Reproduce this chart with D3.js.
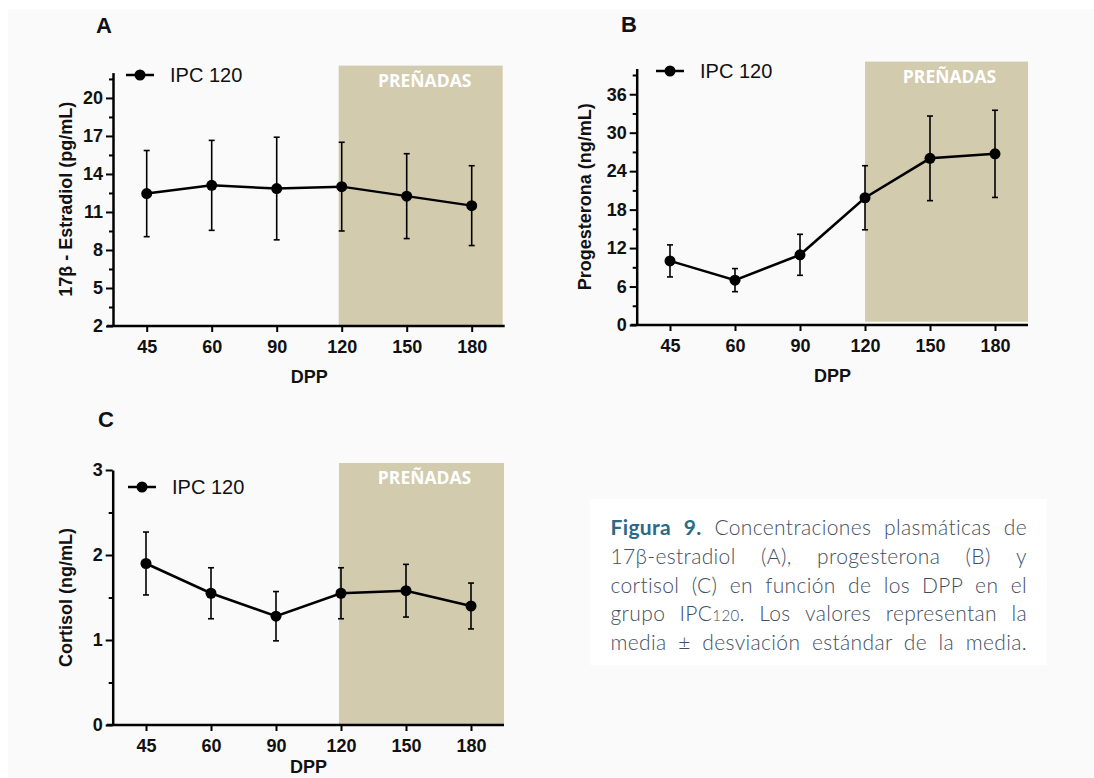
<!DOCTYPE html>
<html>
<head>
<meta charset="utf-8">
<script src="https://cdn.jsdelivr.net/npm/d3@7"></script>
<style>
  body { margin: 0; background: #fff; }
  svg text { font-family: "Liberation Sans", Arial, sans-serif; }
</style>
</head>
<body>
<svg id="fig" width="1094" height="778"></svg>
<script>
// days post partum (x categories)
const days = ["45", "60", "90", "120", "150", "180"];

// 17β-estradiol (pg/mL), mean and SD
const estradiolMean = [12.45, 13.1, 12.85, 13.0, 12.25, 11.5];
const estradiolSD = [3.4, 3.55, 4.05, 3.5, 3.35, 3.15];

// progesterona (ng/mL)
const progesteronaMean = [10.0, 7.0, 10.95, 19.85, 26.0, 26.7];
const progesteronaSD = [2.5, 1.8, 3.2, 5.0, 6.6, 6.8];

// cortisol (ng/mL)
const cortisolMean = [1.9, 1.55, 1.28, 1.55, 1.58, 1.40];
const cortisolSD = [0.37, 0.30, 0.29, 0.30, 0.31, 0.27];

// y tick labels
const estradiolTicks = [2, 5, 8, 11, 14, 17, 20];
const progesteronaTicks = [0, 6, 12, 18, 24, 30, 36];
const cortisolTicks = [0, 1, 2, 3];

const seriesName = "IPC 120";
const pregnantLabel = "PREÑADAS";
const pregnantFrom = "120";

const svg = d3.select("#fig");

// light grey page behind the figure
svg.append("rect")
  .attr("x", 8).attr("y", 9)
  .attr("width", 1086).attr("height", 769)
  .attr("fill", "#fafafa");

function drawPanel(p) {
  const g = svg.append("g");
  const rows = days.map((d, i) => ({ day: d, mean: p.mean[i], sd: p.sd[i] }));

  const x = d3.scalePoint().domain(days).range([p.x0, p.x0 + 325]);
  const y = d3.scaleLinear().domain(p.yDomain).range([p.bottom, p.top]);
  const axisEnd = x(days[days.length - 1]) + 33;

  // shaded pregnancy zone
  const sx = x(pregnantFrom) - p.shadeOff;
  g.append("rect")
    .attr("x", sx)
    .attr("y", p.top - 7)
    .attr("width", axisEnd - sx - p.shadeRight)
    .attr("height", p.bottom - p.top + 7 - p.shadeGap)
    .attr("fill", "#d3cbae");
  g.append("text")
    .attr("x", (sx + axisEnd) / 2 + 3)
    .attr("y", p.top + 14)
    .attr("text-anchor", "middle")
    .style("font-family", "'Open Sans', 'Noto Sans', sans-serif")
    .attr("font-weight", 700)
    .attr("font-size", 17.5)
    .attr("fill", "#fff")
    .text(pregnantLabel);

  // y axis, major + minor ticks
  const minor = p.major.slice(0, -1).map((v, i) => (v + p.major[i + 1]) / 2);
  const last = p.major[p.major.length - 1];
  if (p.yDomain[1] > last) minor.push(last + (p.major[1] - p.major[0]) / 2);

  const ya = g.append("g")
    .attr("transform", `translate(${p.yAxisX},0)`)
    .call(d3.axisLeft(y).tickValues(p.major).tickFormat(d => String(d))
      .tickSize(7).tickPadding(3).tickSizeOuter(0));
  ya.select(".domain").attr("stroke-width", 2.5);
  ya.selectAll(".tick line").attr("stroke-width", 2);
  ya.selectAll(".tick text")
    .attr("font-size", 18).attr("font-weight", 700).attr("fill", "#111")
    .style("font-family", "'Liberation Sans', Arial, sans-serif");

  const ym = g.append("g")
    .attr("transform", `translate(${p.yAxisX},0)`)
    .call(d3.axisLeft(y).tickValues(minor).tickSize(4).tickFormat(""));
  ym.select(".domain").remove();
  ym.selectAll(".tick line").attr("stroke-width", 2);

  // x axis
  const xa = g.append("g")
    .attr("transform", `translate(0,${p.bottom})`)
    .call(d3.axisBottom(x).tickSize(6).tickPadding(8));
  xa.select(".domain").remove();
  xa.selectAll(".tick line").attr("stroke-width", 2);
  xa.selectAll(".tick text")
    .attr("font-size", 18).attr("font-weight", 700).attr("fill", "#111")
    .style("font-family", "'Liberation Sans', Arial, sans-serif");
  g.append("line")
    .attr("x1", p.yAxisX - 6).attr("x2", axisEnd)
    .attr("y1", p.bottom).attr("y2", p.bottom)
    .attr("stroke", "#000").attr("stroke-width", 2.5);

  // axis titles
  g.append("text")
    .attr("transform", `translate(${p.titleX},${(p.top + p.bottom) / 2}) rotate(-90)`)
    .attr("text-anchor", "middle")
    .attr("font-size", 18).attr("font-weight", 700).attr("fill", "#111")
    .text(p.yTitle);

  g.append("text")
    .attr("x", (x(days[0]) + x(days[days.length - 1])) / 2)
    .attr("y", p.bottom + p.dppOff)
    .attr("text-anchor", "middle")
    .attr("font-size", 18).attr("font-weight", 700).attr("fill", "#111")
    .text("DPP");

  // panel letter
  g.append("text")
    .attr("x", p.letterX).attr("y", p.letterY)
    .attr("font-size", 22).attr("font-weight", 700).attr("fill", "#111")
    .text(p.letter);

  // error bars
  const eb = g.append("g").attr("stroke", "#000").attr("stroke-width", 1.6);
  eb.selectAll("line.v").data(rows).join("line").attr("class", "v")
    .attr("x1", d => x(d.day)).attr("x2", d => x(d.day))
    .attr("y1", d => y(d.mean - d.sd)).attr("y2", d => y(d.mean + d.sd));
  eb.selectAll("line.t").data(rows).join("line").attr("class", "t")
    .attr("x1", d => x(d.day) - 3).attr("x2", d => x(d.day) + 3)
    .attr("y1", d => y(d.mean + d.sd)).attr("y2", d => y(d.mean + d.sd));
  eb.selectAll("line.b").data(rows).join("line").attr("class", "b")
    .attr("x1", d => x(d.day) - 3).attr("x2", d => x(d.day) + 3)
    .attr("y1", d => y(d.mean - d.sd)).attr("y2", d => y(d.mean - d.sd));

  // mean line + markers
  g.append("path")
    .datum(rows)
    .attr("fill", "none").attr("stroke", "#000").attr("stroke-width", 2.5)
    .attr("d", d3.line().x(d => x(d.day)).y(d => y(d.mean)));
  g.selectAll("circle.pt").data(rows).join("circle").attr("class", "pt")
    .attr("cx", d => x(d.day)).attr("cy", d => y(d.mean)).attr("r", 5.5)
    .attr("fill", "#000");

  // legend
  const lg = g.append("g").attr("transform", `translate(${p.legX},${p.legY})`);
  lg.append("line").attr("x1", -14).attr("x2", 14)
    .attr("stroke", "#000").attr("stroke-width", 2.5);
  lg.append("circle").attr("r", 5.5).attr("fill", "#000");
  lg.append("text").attr("x", 30).attr("y", 7)
    .attr("font-size", 20).attr("fill", "#111")
    .text(seriesName);
}

drawPanel({
  letter: "A", letterX: 96, letterY: 33,
  mean: estradiolMean, sd: estradiolSD, major: estradiolTicks,
  yDomain: [2, 22], yAxisX: 113, bottom: 326, top: 72.6, x0: 146.7,
  shadeOff: 3, shadeRight: 2, shadeGap: 1, dppOff: 57,
  yTitle: "17β - Estradiol (pg/mL)", titleX: 72,
  legX: 140, legY: 75
});

drawPanel({
  letter: "B", letterX: 621, letterY: 32,
  mean: progesteronaMean, sd: progesteronaSD, major: progesteronaTicks,
  yDomain: [0, 40], yAxisX: 636.7, bottom: 325, top: 68.6, x0: 670,
  shadeOff: 0, shadeRight: 0, shadeGap: 3.3, dppOff: 57,
  yTitle: "Progesterona (ng/mL)", titleX: 591,
  legX: 670, legY: 71
});

drawPanel({
  letter: "C", letterX: 98, letterY: 427,
  mean: cortisolMean, sd: cortisolSD, major: cortisolTicks,
  yDomain: [0, 3], yAxisX: 112.7, bottom: 725, top: 470, x0: 146,
  shadeOff: 2, shadeRight: 0, shadeGap: 0, dppOff: 48,
  yTitle: "Cortisol (ng/mL)", titleX: 72,
  legX: 142, legY: 487
});

// caption, justified word by word
const captionLines = [
  [[["Figura", "bold"]], [["9.", "bold"]], "Concentraciones", "plasmáticas", "de"],
  ["17β-estradiol", "(A),", "progesterona", "(B)", "y"],
  ["cortisol", "(C)", "en", "función", "de", "los", "DPP", "en", "el"],
  ["grupo", [["IPC", ""], ["120", "small"], [".", ""]], "Los", "valores", "representan", "la"],
  ["media", "±", "desviación", "estándar", "de", "la", "media."]
];

const cap = svg.append("g");
cap.append("rect")
  .attr("x", 590).attr("y", 499).attr("width", 457).attr("height", 166)
  .attr("fill", "#fff");

const capLeft = 610.5, capRight = 1027;
captionLines.forEach((words, li) => {
  const t = cap.append("text")
    .attr("y", 535 + li * 28.8)
    .style("font-family", "Lato, 'Open Sans', sans-serif")
    .style("letter-spacing", "0.35px")
    .attr("font-size", 21).attr("font-weight", 300)
    .attr("fill", "#3f4f63");
  const spans = words.map(w => {
    const segs = typeof w === "string" ? [[w, ""]] : w;
    const ws = t.append("tspan");
    segs.forEach(([s, st]) => {
      const sp = ws.append("tspan").text(s);
      if (st === "bold") sp.attr("font-weight", 700).attr("fill", "#2b6a86");
      if (st === "small") sp.attr("font-size", 15);
    });
    return ws;
  });
  const widths = spans.map(s => s.node().getComputedTextLength());
  const gap = (capRight - capLeft - d3.sum(widths)) / (spans.length - 1);
  let cx = capLeft;
  spans.forEach((s, i) => { s.attr("x", cx); cx += widths[i] + gap; });
});
</script>
</body>
</html>
